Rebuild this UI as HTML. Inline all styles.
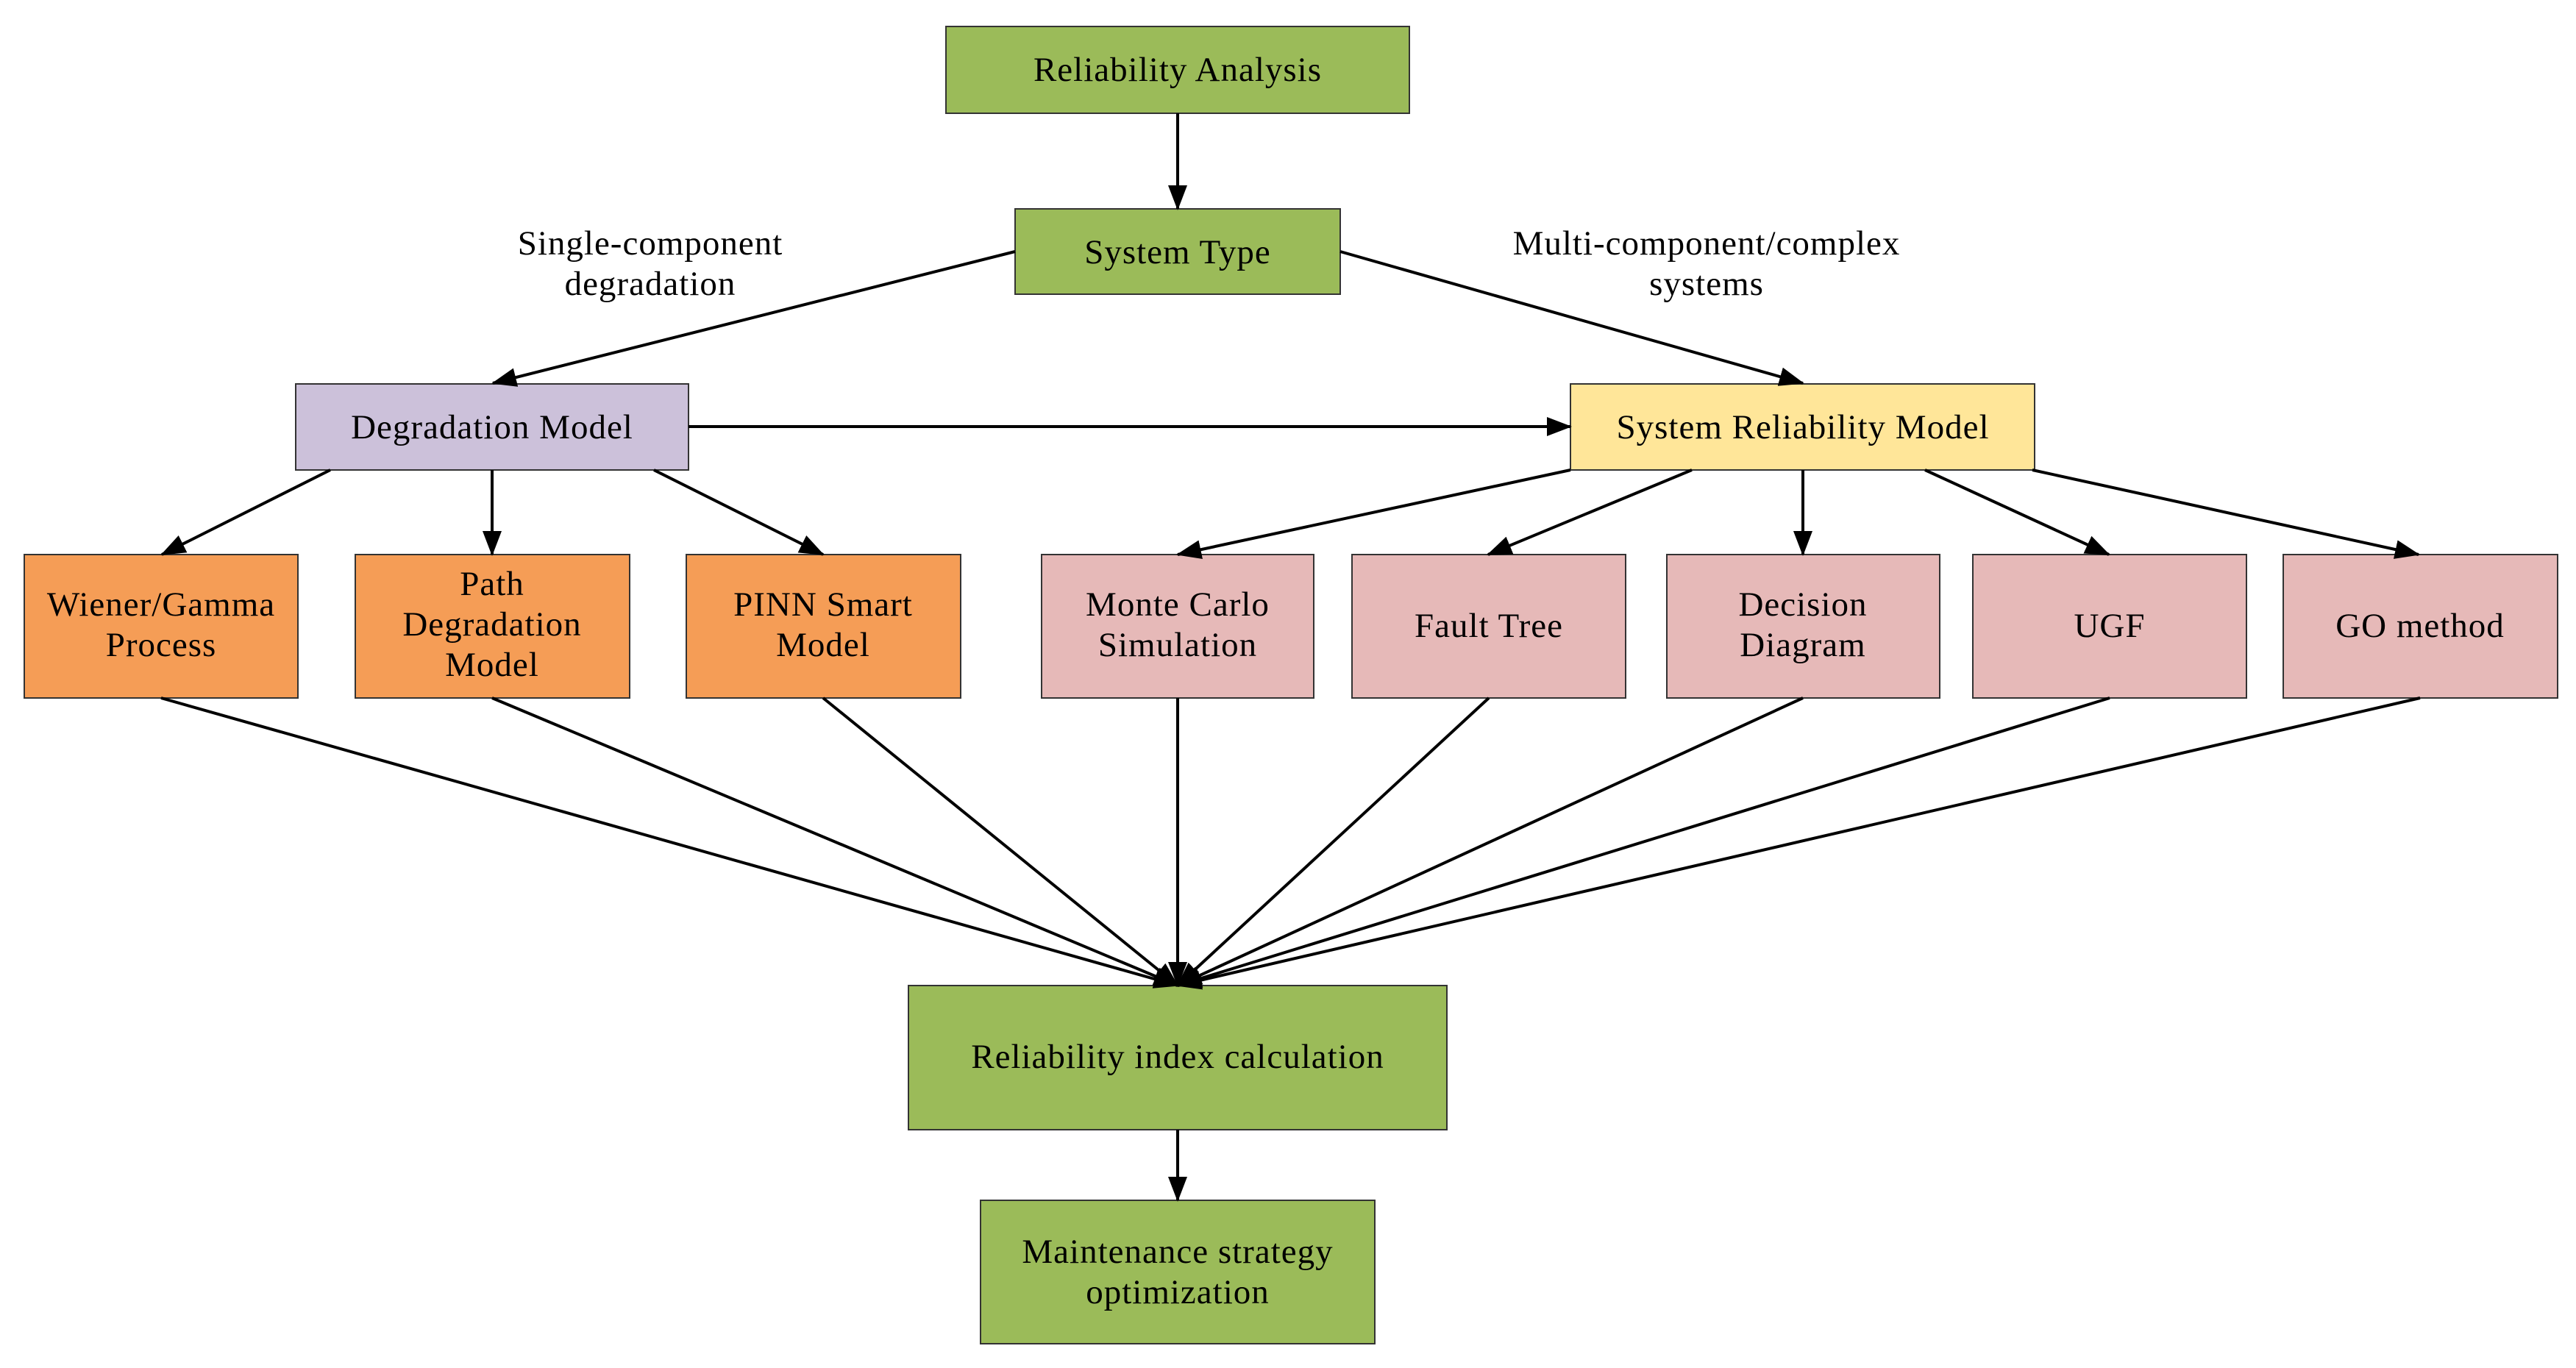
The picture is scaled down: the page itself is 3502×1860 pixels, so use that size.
<!DOCTYPE html>
<html><head><meta charset="utf-8"><style>
html,body{margin:0;padding:0;background:#fff;}
svg text{font-family:"Liberation Serif",serif;font-size:47px;letter-spacing:1px;fill:#000;text-anchor:middle;}
</style></head><body>
<svg width="3502" height="1855" viewBox="0 0 3502 1855" xmlns="http://www.w3.org/2000/svg">
<defs>
<marker id="a" markerUnits="userSpaceOnUse" markerWidth="34" markerHeight="26" refX="32" refY="13" orient="auto">
<path d="M0,0 L34,13 L0,26 z" fill="#000"/>
</marker>
</defs>
<g stroke="#333" stroke-width="2">
<rect x="1286" y="36" width="630" height="118" fill="#9BBB59"/>
<rect x="1380" y="284" width="442" height="116" fill="#9BBB59"/>
<rect x="402" y="522" width="534" height="117" fill="#CCC1DA"/>
<rect x="2135" y="522" width="631" height="117" fill="#FFE699"/>
<rect x="33" y="754" width="372" height="195" fill="#F59D56"/>
<rect x="483" y="754" width="373" height="195" fill="#F59D56"/>
<rect x="933" y="754" width="373" height="195" fill="#F59D56"/>
<rect x="1416" y="754" width="370" height="195" fill="#E6B9B8"/>
<rect x="1838" y="754" width="372" height="195" fill="#E6B9B8"/>
<rect x="2266" y="754" width="371" height="195" fill="#E6B9B8"/>
<rect x="2682" y="754" width="372" height="195" fill="#E6B9B8"/>
<rect x="3104" y="754" width="373" height="195" fill="#E6B9B8"/>
<rect x="1235" y="1340" width="732" height="196" fill="#9BBB59"/>
<rect x="1333" y="1632" width="536" height="195" fill="#9BBB59"/>
</g>
<g stroke="#000" stroke-width="4" marker-end="url(#a)" fill="none">
<line x1="1601" y1="154" x2="1601" y2="284"/>
<line x1="1380" y1="342" x2="670" y2="521"/>
<line x1="1822" y1="342" x2="2451" y2="521"/>
<line x1="936" y1="580" x2="2135" y2="580"/>
<line x1="449" y1="639" x2="220" y2="754"/>
<line x1="669" y1="639" x2="669" y2="754"/>
<line x1="889" y1="639" x2="1119" y2="754"/>
<line x1="2135" y1="639" x2="1601" y2="754"/>
<line x1="2300" y1="639" x2="2023" y2="754"/>
<line x1="2451" y1="639" x2="2451" y2="754"/>
<line x1="2617" y1="639" x2="2867" y2="754"/>
<line x1="2763" y1="639" x2="3288" y2="754"/>
<line x1="219" y1="949" x2="1601" y2="1340"/>
<line x1="669" y1="949" x2="1601" y2="1340"/>
<line x1="1119" y1="949" x2="1601" y2="1340"/>
<line x1="1601" y1="949" x2="1601" y2="1340"/>
<line x1="2024" y1="949" x2="1601" y2="1340"/>
<line x1="2451" y1="949" x2="1601" y2="1340"/>
<line x1="2868" y1="949" x2="1601" y2="1340"/>
<line x1="3290" y1="949" x2="1601" y2="1340"/>
<line x1="1601" y1="1536" x2="1601" y2="1632"/>
</g>
<text x="1601" y="110">Reliability Analysis</text>
<text x="1601" y="358">System Type</text>
<text x="669" y="596">Degradation Model</text>
<text x="2451" y="596">System Reliability Model</text>
<text x="884" y="346">Single-component</text>
<text x="884" y="401">degradation</text>
<text x="2320" y="346">Multi-component/complex</text>
<text x="2320" y="401">systems</text>
<text x="219" y="837">Wiener/Gamma</text>
<text x="219" y="892">Process</text>
<text x="669" y="809">Path</text>
<text x="669" y="864">Degradation</text>
<text x="669" y="919">Model</text>
<text x="1119" y="837">PINN Smart</text>
<text x="1119" y="892">Model</text>
<text x="1601" y="837">Monte Carlo</text>
<text x="1601" y="892">Simulation</text>
<text x="2024" y="866">Fault Tree</text>
<text x="2451" y="837">Decision</text>
<text x="2451" y="892">Diagram</text>
<text x="2868" y="866">UGF</text>
<text x="3290" y="866">GO method</text>
<text x="1601" y="1452">Reliability index calculation</text>
<text x="1601" y="1717">Maintenance strategy</text>
<text x="1601" y="1772">optimization</text>
</svg>
</body></html>
